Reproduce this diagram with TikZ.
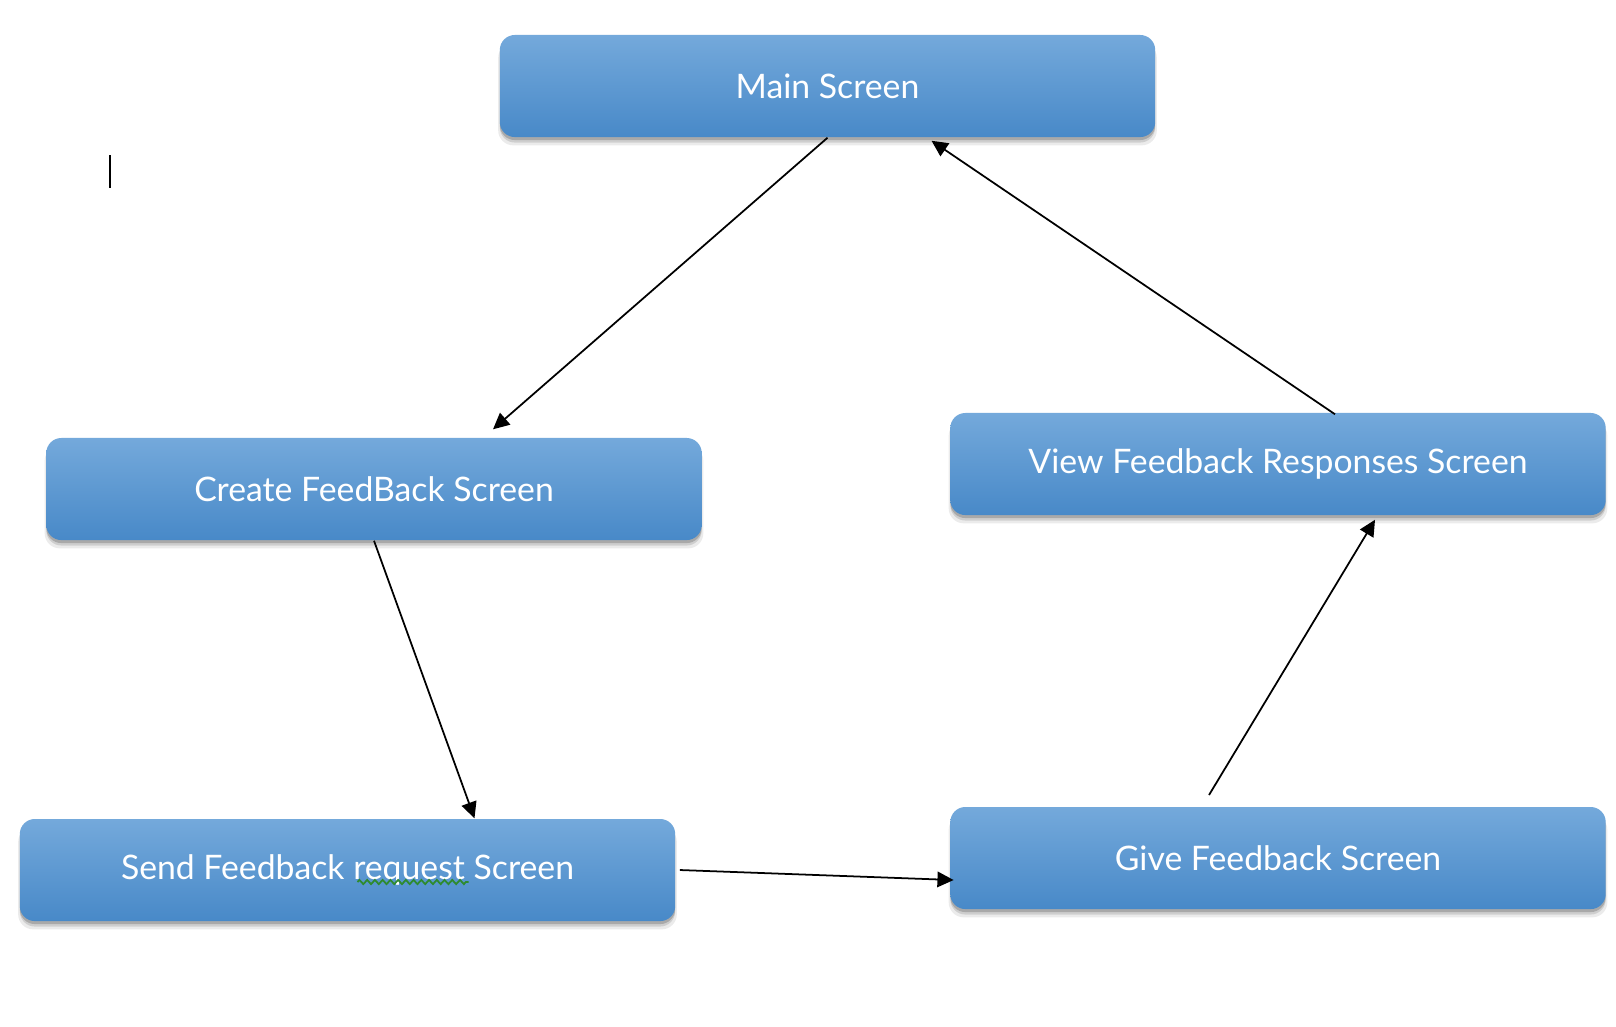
\documentclass[tikz,border=0pt]{standalone}
\usepackage{fontspec}
\setmainfont{Lato}
\usetikzlibrary{arrows.meta,calc,shadows,decorations.pathmorphing}
\definecolor{boxTop}{HTML}{74A9DB}
\definecolor{boxBottom}{HTML}{4889C8}
\definecolor{spellGreen}{HTML}{2E8B2E}
\begin{document}
\begin{tikzpicture}[x=0.01cm, y=-0.01cm,
    screenStyle/.style={rectangle, rounded corners=0.15cm, minimum width=6.55cm, minimum height=1.02cm,
        top color=boxTop, bottom color=boxBottom, draw=none, text=white,
        font=\fontsize{9.6}{11}\selectfont,
        drop shadow={shadow xshift=0pt, shadow yshift=-0.08cm, shadow scale=1.005, opacity=0.08, fill=black},
        drop shadow={shadow xshift=0pt, shadow yshift=-0.055cm, opacity=0.12, fill=black},
        drop shadow={shadow xshift=0pt, shadow yshift=-0.03cm, opacity=0.18, fill=black}},
    flowStyle/.style={-{Triangle[length=4.6pt, width=4.4pt]}, line width=0.5pt}]
    \useasboundingbox (0,0) rectangle (1616,1026);

    \node[screenStyle] (main_scr)   at ( 827.5,  86) {Main Screen};
    \node[screenStyle] (create_scr) at ( 374,   489) {Create FeedBack Screen};
    \node[screenStyle] (send_scr)   at ( 347.5, 870) {Send Feedback request Screen};
    \node[screenStyle] (view_scr)   at (1278,   464) {View Feedback Responses Screen};
    \node[screenStyle] (give_scr)   at (1278,   858) {Give Feedback Screen};

    \coordinate (give_top) at (1209, 795);
    \coordinate (cursor_top) at (110, 155);
    \coordinate (cursor_bot) at (110, 188);

    \draw[flowStyle] (main_scr.south) -- ($(create_scr.north)+(119,-8)$);
    \draw[flowStyle] (create_scr.south) -- ($(send_scr.north)+(127,0)$);
    \draw[flowStyle] ($(send_scr.east)+(4,0)$) -- ($(give_scr.west)+(4,22)$);
    \draw[flowStyle] (give_top) -- ($(view_scr.south)+(97,4)$);
    \draw[flowStyle] ($(view_scr.north)+(57,2)$) -- ($(main_scr.south)+(104,3)$);

    \draw[spellGreen, line width=0.5pt, decorate, decoration={zigzag, amplitude=0.6pt, segment length=2.2pt}]
        ($(send_scr.center)+(10,12)$) -- ($(send_scr.center)+(121,12)$);

    \draw[line width=0.6pt] (cursor_top) -- (cursor_bot);
\end{tikzpicture}
\end{document}
